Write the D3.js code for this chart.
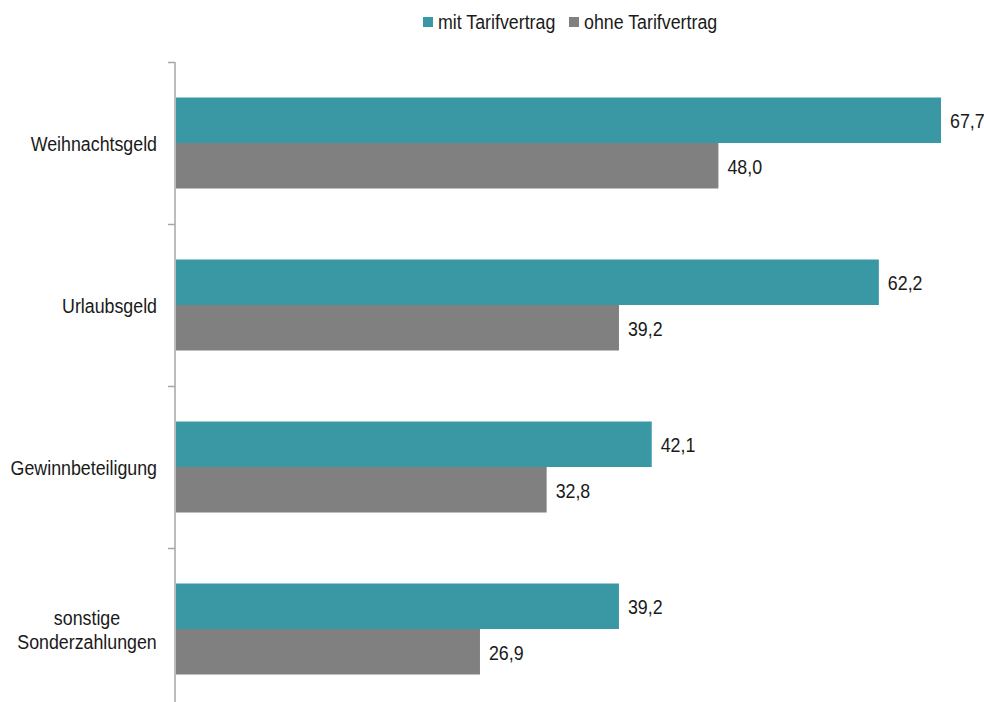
<!DOCTYPE html>
<html><head><meta charset="utf-8">
<script src="https://cdn.jsdelivr.net/npm/d3@7"></script>
<style>
body{margin:0;background:#fff;}
text{font-family:"Liberation Sans Narrow","Arial Narrow","Liberation Sans",Arial,sans-serif;fill:#1a1a1a;}
</style></head><body>
<svg id="c" width="984" height="702"></svg>
<script>
const categories = ["Weihnachtsgeld","Urlaubsgeld","Gewinnbeteiligung","sonstige Sonderzahlungen"];
const categoryLines = [["Weihnachtsgeld"],["Urlaubsgeld"],["Gewinnbeteiligung"],["sonstige","Sonderzahlungen"]];
const seriesNames = ["mit Tarifvertrag","ohne Tarifvertrag"];
const mitTarif = [67.7, 62.2, 42.1, 39.2];
const ohneTarif = [48.0, 39.2, 32.8, 26.9];
const colors = ["#3a98a5","#808080"];

const SX = 0.89; // horizontal condensation to mimic a narrow face
const FS = 20;
const svg = d3.select("#c");
const x0 = 176;
const x = d3.scaleLinear().domain([0, 80]).range([x0, x0 + 80*11.3]);
const y = d3.scaleBand().domain(categories).range([62, 710]).paddingInner(0).paddingOuter(0);
const inner = d3.scaleBand().domain(seriesNames).range([0, y.bandwidth()]).paddingInner(0).paddingOuter(0.78);
const fmt = v => v.toFixed(1).replace(".", ",");

function label(parent, px, py, txt, anchor) {
  const g = parent.append("g").attr("transform", `translate(${px},${py}) scale(${SX},1)`);
  return g.append("text").attr("text-anchor", anchor || "start").attr("font-size", FS).text(txt);
}

const data = [mitTarif, ohneTarif];
seriesNames.forEach((s, si) => {
  const g = svg.append("g");
  g.selectAll("rect").data(categories).join("rect")
    .attr("x", x(0))
    .attr("y", c => y(c) + inner(s))
    .attr("width", (c, i) => x(data[si][i]) - x(0))
    .attr("height", inner.bandwidth())
    .attr("fill", colors[si]);
  categories.forEach((c, i) => {
    label(g, x(data[si][i]) + 9, y(c) + inner(s) + inner.bandwidth()/2 + 8, fmt(data[si][i]));
  });
});

// axis
const ax = svg.append("g");
ax.append("line").attr("x1", 175).attr("x2", 175).attr("y1", 62).attr("y2", 702)
  .attr("stroke", "#a6a6a6").attr("stroke-width", 1.5);
ax.selectAll("line.t").data(categories.map(c => y(c))).join("line").attr("class","t")
  .attr("x1", 168).attr("x2", 175).attr("y1", d => d + 0.5).attr("y2", d => d + 0.5)
  .attr("stroke", "#a6a6a6").attr("stroke-width", 1.5);

// category labels
categories.forEach((c, i) => {
  const lines = categoryLines[i];
  const cy = y(c) + y.bandwidth()/2;
  const lh = 24;
  lines.forEach((l, k) => {
    const yy = cy + (k - (lines.length-1)/2) * lh + 8;
    if (lines.length > 1) label(svg, 87, yy, l, "middle");
    else label(svg, 157, yy, l, "end");
  });
});

// legend
const leg = svg.append("g");
const legX = [423, 569];
seriesNames.forEach((s, i) => {
  leg.append("rect").attr("x", legX[i]).attr("y", 17).attr("width", 10).attr("height", 10).attr("fill", colors[i]);
  label(leg, legX[i] + 15, 29, s);
});
</script>
</body></html>
